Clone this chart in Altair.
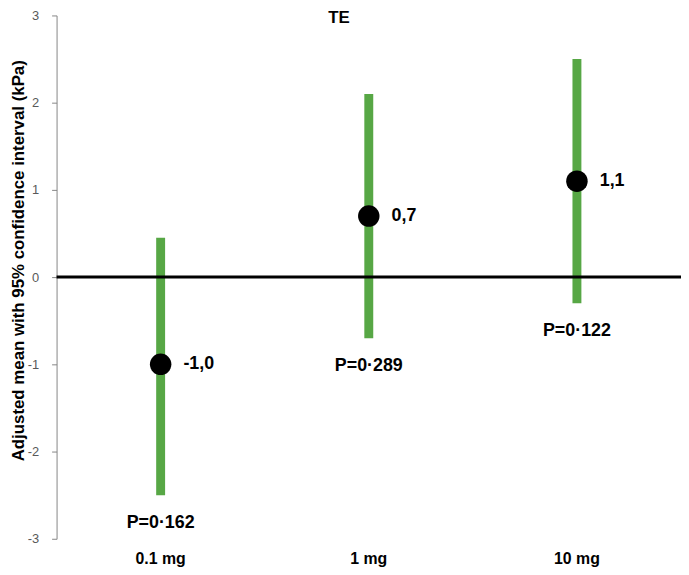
import altair as alt
import pandas as pd

doses = ["0.1 mg", "1 mg", "10 mg"]
means = [-1.0, 0.7, 1.1]
lower = [-2.5, -0.7, -0.3]
upper = [0.45, 2.1, 2.5]
mean_labels = ["-1,0", "0,7", "1,1"]
p_labels = ["P=0·162", "P=0·289", "P=0·122"]
y_ticks = [-3, -2, -1, 0, 1, 2, 3]

df = pd.DataFrame({
    "dose": doses, "mean": means, "lo": lower, "hi": upper,
    "mlab": mean_labels, "plab": p_labels,
})

FONT = "Liberation Sans"

x = alt.X("dose:N", sort=doses,
          scale=alt.Scale(paddingInner=0, paddingOuter=0),
          axis=alt.Axis(title=None, domain=False, ticks=False, labelAngle=0,
                        labelFont=FONT, labelFontSize=16, labelFontWeight="bold",
                        labelColor="black", labelPadding=12))
yscale = alt.Scale(domain=[-3, 3], nice=False, zero=False)

base = alt.Chart(df)

bars = base.mark_rule(color="#57A745", strokeWidth=9).encode(
    x=x,
    y=alt.Y("lo:Q", scale=yscale,
            axis=alt.Axis(title="Adjusted mean with 95% confidence interval (kPa)",
                          values=y_ticks, grid=False, labelExpr="'' + datum.value",
                          domainColor="#868686", tickColor="#868686", tickSize=5,
                          labelColor="#595959", labelFont=FONT, labelFontSize=13,
                          labelPadding=13,
                          titleFont=FONT, titleFontSize=17, titleFontWeight="bold",
                          titleColor="black", titleX=-38, titleY=247,
                          titleAngle=-90, titleAlign="center", titleBaseline="middle")),
    y2="hi:Q",
)

zero = alt.Chart(pd.DataFrame({"z": [0]})).mark_rule(color="black", strokeWidth=3).encode(
    y=alt.Y("z:Q", scale=yscale)
)

dots = base.mark_point(filled=True, shape="circle", size=470, color="black", opacity=1).encode(
    x=x, y=alt.Y("mean:Q", scale=yscale)
)

mtext = base.mark_text(align="left", baseline="middle", dx=23, font=FONT,
                       fontSize=18, fontWeight="bold", color="black").encode(
    x=x, y=alt.Y("mean:Q", scale=yscale), text="mlab:N"
)

ptext = base.mark_text(align="center", baseline="middle", dy=28, font=FONT,
                       fontSize=18, fontWeight="bold", color="black").encode(
    x=x, y=alt.Y("lo:Q", scale=yscale), text="plab:N"
)

title = alt.Chart(pd.DataFrame({"t": ["TE"]})).mark_text(
    align="center", baseline="top", font=FONT, fontSize=17, fontWeight="bold",
    color="black").encode(x=alt.value(285), y=alt.value(-5), text="t:N")

chart = alt.layer(bars, zero, dots, mtext, ptext, title).properties(
    width=630, height=528,
    autosize=alt.AutoSizeParams(type="none"),
    padding={"left": 49, "top": 5, "right": 0, "bottom": 30},
).configure_view(stroke=None)

chart.save("out.html", embed_options={"renderer": "svg", "actions": False})
